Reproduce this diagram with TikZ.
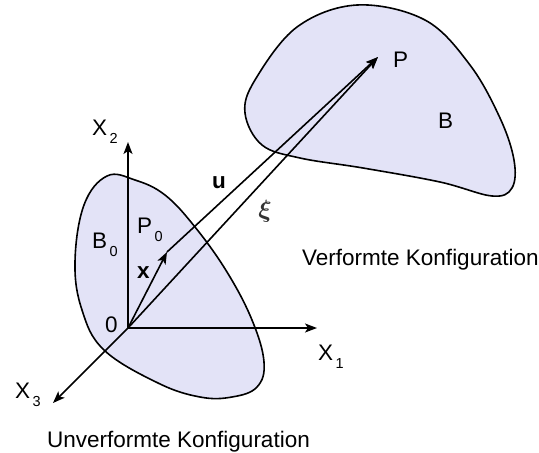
\documentclass[tikz,border=0pt]{standalone}
\usepackage{fontspec}
\usepackage{amsmath}
\setmainfont{Liberation Sans}
\usetikzlibrary{arrows.meta}
\definecolor{bodyfill}{RGB}{227,227,247}
\newcommand{\lbl}[2]{#1\kern2.5pt\raisebox{-8pt}{\fontsize{14.5}{15}\selectfont #2}}
\begin{document}
\begin{tikzpicture}[x=1pt,y=-1pt,
  arr/.style={line width=1.6pt,-{Stealth[length=12pt,width=9pt,inset=3pt]}},
  body/.style={line width=1.6pt,fill=bodyfill,draw=black},
  txt/.style={inner sep=0pt,anchor=base west,font=\fontsize{22.5}{25}\selectfont}]
\useasboundingbox (0,0) rectangle (539,453);
% bodies
\draw[body] plot[smooth cycle,tension=0.65] coordinates {(107,176) (135,180) (165,195) (195,227) (227,272) (252,320) (264,362) (257,387) (232,397) (200,397) (158,383) (104,350) (82,310) (75,262) (84,205)};
\draw[body] plot[smooth cycle,tension=0.6] coordinates {(357,5) (425,20) (470,65) (500,118) (514,160) (512,188) (492,196) (440,182) (363,168) (300,158) (262,145) (245,113) (255,80) (297,27)};
% points
\coordinate (O) at (128,328);
\coordinate (X1t) at (317,328);
\coordinate (X2t) at (128,142);
\coordinate (X3t) at (53,403);
\coordinate (P0) at (167,252);
\coordinate (P) at (378,57);
% axes and vectors
\draw[arr] (O) -- (X1t);
\draw[arr] (O) -- (X2t);
\draw[arr] (O) -- (X3t);
\draw[arr] (O) -- (P0);
\draw[arr] (P0) -- (P);
\draw[arr] (O) -- (P);
% labels
\node[txt] (lX2) at (92,135) {\lbl{X}{2}};
\node[txt] (lX1) at (318,360) {\lbl{X}{1}};
\node[txt] (lX3) at (15,398) {\lbl{X}{3}};
\node[txt] (lP0) at (137,233) {\lbl{P}{0}};
\node[txt] (lB0) at (92,248) {\lbl{B}{0}};
\node[txt] (lO) at (105,332) {0};
\node[txt] (lx) at (137,278) {\textbf{x}};
\node[txt] (lu) at (212,188) {\textbf{u}};
\node[inner sep=0pt,font=\fontsize{30}{32}\selectfont,text=black!80] (lxi) at (265,211) {$\boldsymbol{\xi}$};
\node[txt] (lP) at (393,67) {P};
\node[txt] (lB) at (438,128) {B};
\node[txt] (lVK) at (302,265) {Verformte Konfiguration};
\node[txt] (lUK) at (47,447) {Unverformte Konfiguration};
\end{tikzpicture}
\end{document}
